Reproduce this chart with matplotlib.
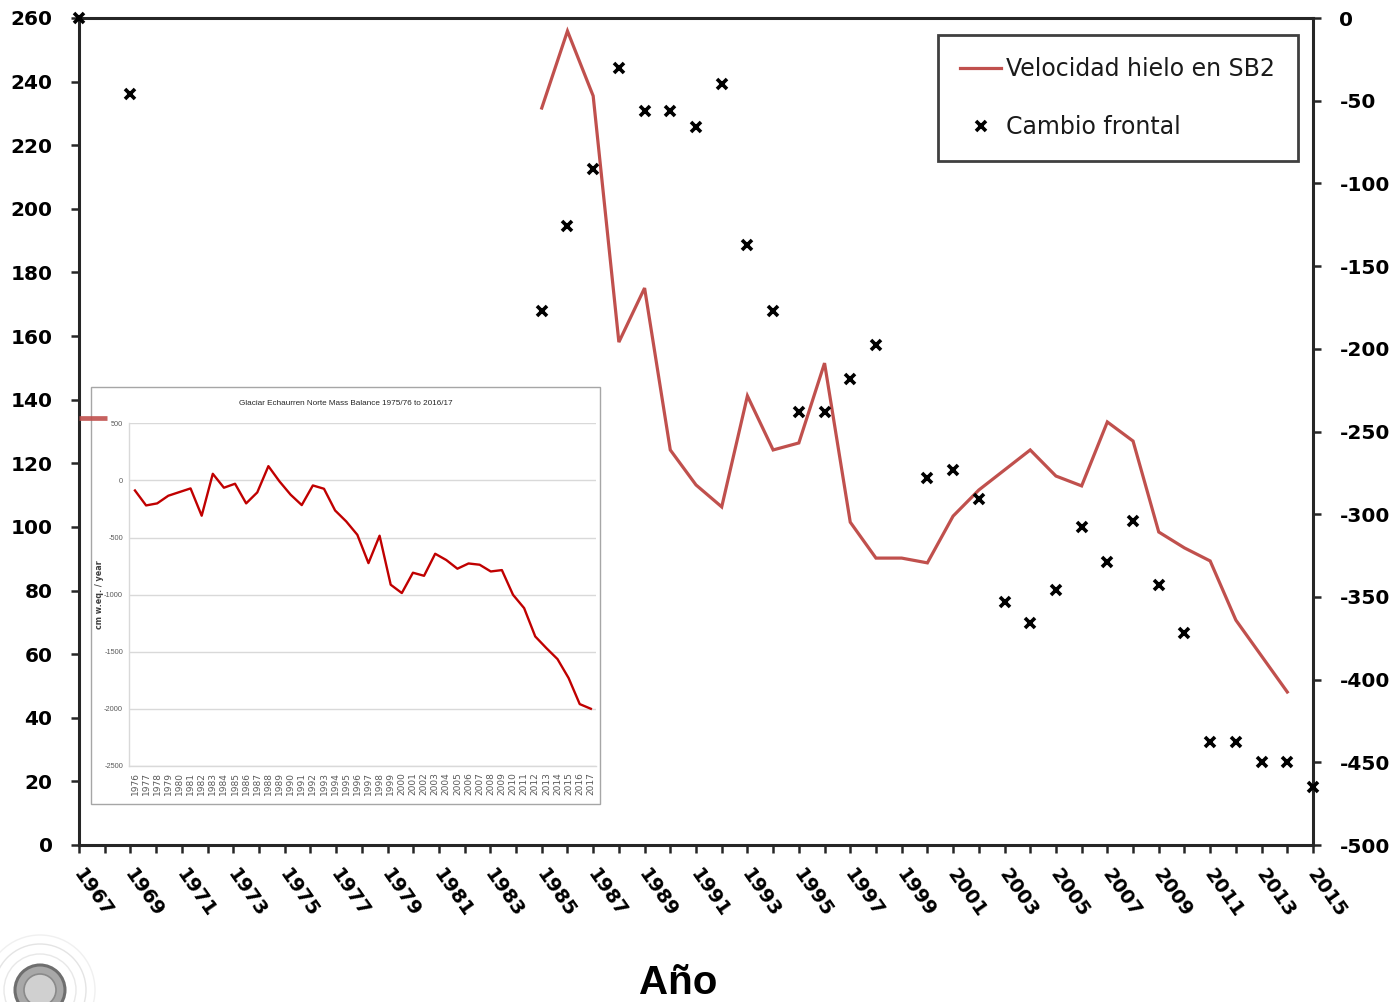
import matplotlib
matplotlib.use("Agg")
import matplotlib.pyplot as plt
from matplotlib import font_manager
from matplotlib.patches import Rectangle, Circle
from matplotlib.lines import Line2D
from matplotlib.transforms import ScaledTranslation

# ---------------------------------------------------------------- data
# Ice velocity at station SB2 (left axis)
velocity_years = list(range(1985, 2015))
velocity_values = [231.7, 255.9, 235.5, 158.1, 175.1, 124.2, 113.2, 106.3, 141.2, 124.2,
                   126.4, 151.5, 101.5, 90.2, 90.2, 88.7, 103.4, 111.6, 117.9, 124.2,
                   116.0, 112.9, 133.0, 127.0, 98.4, 93.4, 89.3, 70.7, 59.4, 48.1]

# Short early velocity segment partly hidden behind the inset
early_velocity_years = [1967, 1968.1]
early_velocity_values = [134.2, 134.2]

# Cumulative frontal change (right axis)
front_years = [1967, 1969, 1985, 1986, 1987, 1988, 1989, 1990, 1991, 1992, 1993,
               1994, 1995, 1996, 1997, 1998, 2000, 2001, 2002, 2003, 2004, 2005,
               2006, 2007, 2008, 2009, 2010, 2011, 2012, 2013, 2014, 2015]
front_values = [0, -46, -177, -126, -91, -30, -56, -56, -66, -40, -137,
                -177, -238, -238, -218, -198, -278, -273, -291, -353, -366, -346,
                -308, -329, -304, -343, -372, -438, -438, -450, -450, -465]

# Echaurren Norte glacier mass balance (inset)
mb_years = list(range(1976, 2018))
mb_values = [-88, -219, -201, -134, -102, -70, -309, 58, -64, -29,
             -201, -105, 125, -9, -125, -216, -44, -73, -263, -359,
             -476, -724, -484, -913, -986, -808, -835, -642, -697, -773,
             -727, -738, -797, -785, -1001, -1118, -1366, -1468, -1564, -1730,
             -1958, -1999]

left_ticks = list(range(0, 261, 20))
right_ticks = list(range(-500, 1, 50))
year_ticks = list(range(1967, 2016, 2))
mb_ticks = list(range(-2500, 501, 500))

# ---------------------------------------------------------------- fonts
installed = {f.name for f in font_manager.fontManager.ttflist}
narrow = "Liberation Sans Narrow" if "Liberation Sans Narrow" in installed else "Liberation Sans"
main_font = "DejaVu Sans"

W, H = 1400, 1002
fig = plt.figure(figsize=(W / 100, H / 100), dpi=100)
fig.patch.set_facecolor("white")


def fx(px):
    return px / W


def fy(py):
    return 1 - py / H


# ---------------------------------------------------------------- main axes
ax = fig.add_axes([fx(79), fy(845), fx(1313 - 79), (845 - 18) / H])
ax.set_zorder(1)
ax2 = ax.twinx()
ax2.set_zorder(2)
ax2.patch.set_visible(False)

spine_col = "#262626"
line_red = "#c0504d"

vel_line, = ax.plot(velocity_years, velocity_values, color=line_red, lw=2.3,
                    solid_joinstyle="miter", zorder=3, label="Velocidad hielo en SB2")
front_pts, = ax2.plot(front_years, front_values, ls="none", marker="x", ms=7.5,
                      mew=2.6, color="black", clip_on=False, zorder=4,
                      label="Cambio frontal")

ax.set_xlim(1967, 2015)
ax.set_ylim(0, 260)
ax2.set_ylim(-500, 0)

ax.set_xticks(year_ticks)
ax.set_xticks(range(1967, 2016), minor=True)
ax.set_xticklabels([str(y) for y in year_ticks], rotation=-55, ha="left",
                   va="top", rotation_mode="anchor")
ax.set_yticks(left_ticks)
ax.set_yticklabels([str(v) for v in left_ticks])
ax2.set_yticks(right_ticks)
ax2.set_yticklabels([str(v) for v in right_ticks])

for a in (ax, ax2):
    for s in a.spines.values():
        s.set_linewidth(2.2)
        s.set_color(spine_col)
for s in ("left", "top", "bottom"):
    ax2.spines[s].set_visible(False)
ax.spines["right"].set_visible(False)

ax.tick_params(axis="x", which="both", direction="out", length=6, width=1.8,
               color=spine_col)
ax.tick_params(axis="x", which="major", pad=9, labelsize=14)
ax.tick_params(axis="y", direction="out", length=6, width=1.8, color=spine_col,
               pad=13, labelsize=14.5)
ax2.tick_params(axis="y", direction="out", length=6, width=1.8, color=spine_col,
                pad=13, labelsize=14.5)

shift_right = ScaledTranslation(6 / 100, 0, fig.dpi_scale_trans)
for lbl in ax.get_xticklabels():
    lbl.set_transform(lbl.get_transform() + shift_right)
for lbl in ax.get_xticklabels() + ax.get_yticklabels() + ax2.get_yticklabels():
    lbl.set_fontweight("bold")
    lbl.set_family(main_font)

# legend
leg = ax2.legend([vel_line, front_pts], ["Velocidad hielo en SB2", "Cambio frontal"],
                 loc="upper left", bbox_to_anchor=(fx(938), fy(35)),
                 bbox_transform=fig.transFigure, prop={"family": main_font, "size": 17},
                 frameon=True, fancybox=False, framealpha=1, edgecolor="#404040",
                 borderpad=0.95, handlelength=1.7, handletextpad=0.25,
                 labelspacing=1.42, borderaxespad=0)
leg.get_frame().set_linewidth(2.0)
for t in leg.get_texts():
    t.set_color("#1a1a1a")

# x axis title
fig.text(fx(678), fy(983), "Año", fontsize=29, fontweight="bold",
         family="Liberation Sans", ha="center", va="center")

# ---------------------------------------------------------------- inset
box = Rectangle((fx(91), fy(804)), fx(600 - 91), (804 - 387) / H,
                transform=fig.transFigure, facecolor="white", edgecolor="#a6a6a6",
                lw=1.0, zorder=3)
fig.add_artist(box)

axin = fig.add_axes([fx(129.4), fy(766), fx(596.4 - 129.4), (766 - 423.3) / H])
axin.set_zorder(4)
axin.plot(mb_years, mb_values, color="#c00000", lw=1.7, zorder=3)
axin.set_xlim(1975.5, 2017.5)
axin.set_ylim(-2500, 500)
axin.set_yticks(mb_ticks)
axin.set_yticklabels([str(v) for v in mb_ticks])
axin.set_xticks(mb_years)
axin.set_xticklabels([str(y) for y in mb_years], rotation=90)
axin.yaxis.grid(True, color="#d9d9d9", lw=1.0)
axin.set_axisbelow(True)
for s in ("top", "right"):
    axin.spines[s].set_visible(False)
for s in ("left", "bottom"):
    axin.spines[s].set_color("#d9d9d9")
    axin.spines[s].set_linewidth(1.0)
axin.tick_params(axis="both", length=0)
axin.tick_params(axis="y", pad=4.5, labelsize=5.3, labelcolor="#595959")
axin.tick_params(axis="x", pad=4.5, labelsize=6.5, labelcolor="#595959")
for lbl in axin.get_yticklabels():
    lbl.set_family(narrow)

fig.text(fx(346), fy(403), "Glaciar Echaurren Norte Mass Balance 1975/76 to 2016/17",
         fontsize=5.9, family=narrow, color="#262626", ha="center", va="center",
         zorder=5)
fig.text(fx(99), fy(595), "cm w.eq. / year", rotation=90, fontsize=5.8,
         fontweight="bold", color="#404040", ha="center", va="center", zorder=5)

# early velocity stub, drawn above the inset frame
fig.add_artist(Line2D(early_velocity_years, early_velocity_values, transform=ax.transData,
                      color=line_red, lw=3.4, alpha=0.9, zorder=6,
                      solid_capstyle="butt"))

# ---------------------------------------------------------------- corner emblem
emblem_center = (0.40, 0.12)
for r, ec, fc, lw in [(0.55, "#f0f0f0", "none", 1.0), (0.46, "#e4e4e4", "none", 1.0),
                      (0.36, "#e8e8e8", "none", 1.0), (0.25, "#6e6e6e", "#a8a8a8", 2.2),
                      (0.16, "#8a8a8a", "#d0d0d0", 1.2)]:
    fig.add_artist(Circle(emblem_center, r, transform=fig.dpi_scale_trans,
                          facecolor=fc, edgecolor=ec, lw=lw, zorder=2))

fig.savefig("out.png", dpi=100, facecolor="white")
